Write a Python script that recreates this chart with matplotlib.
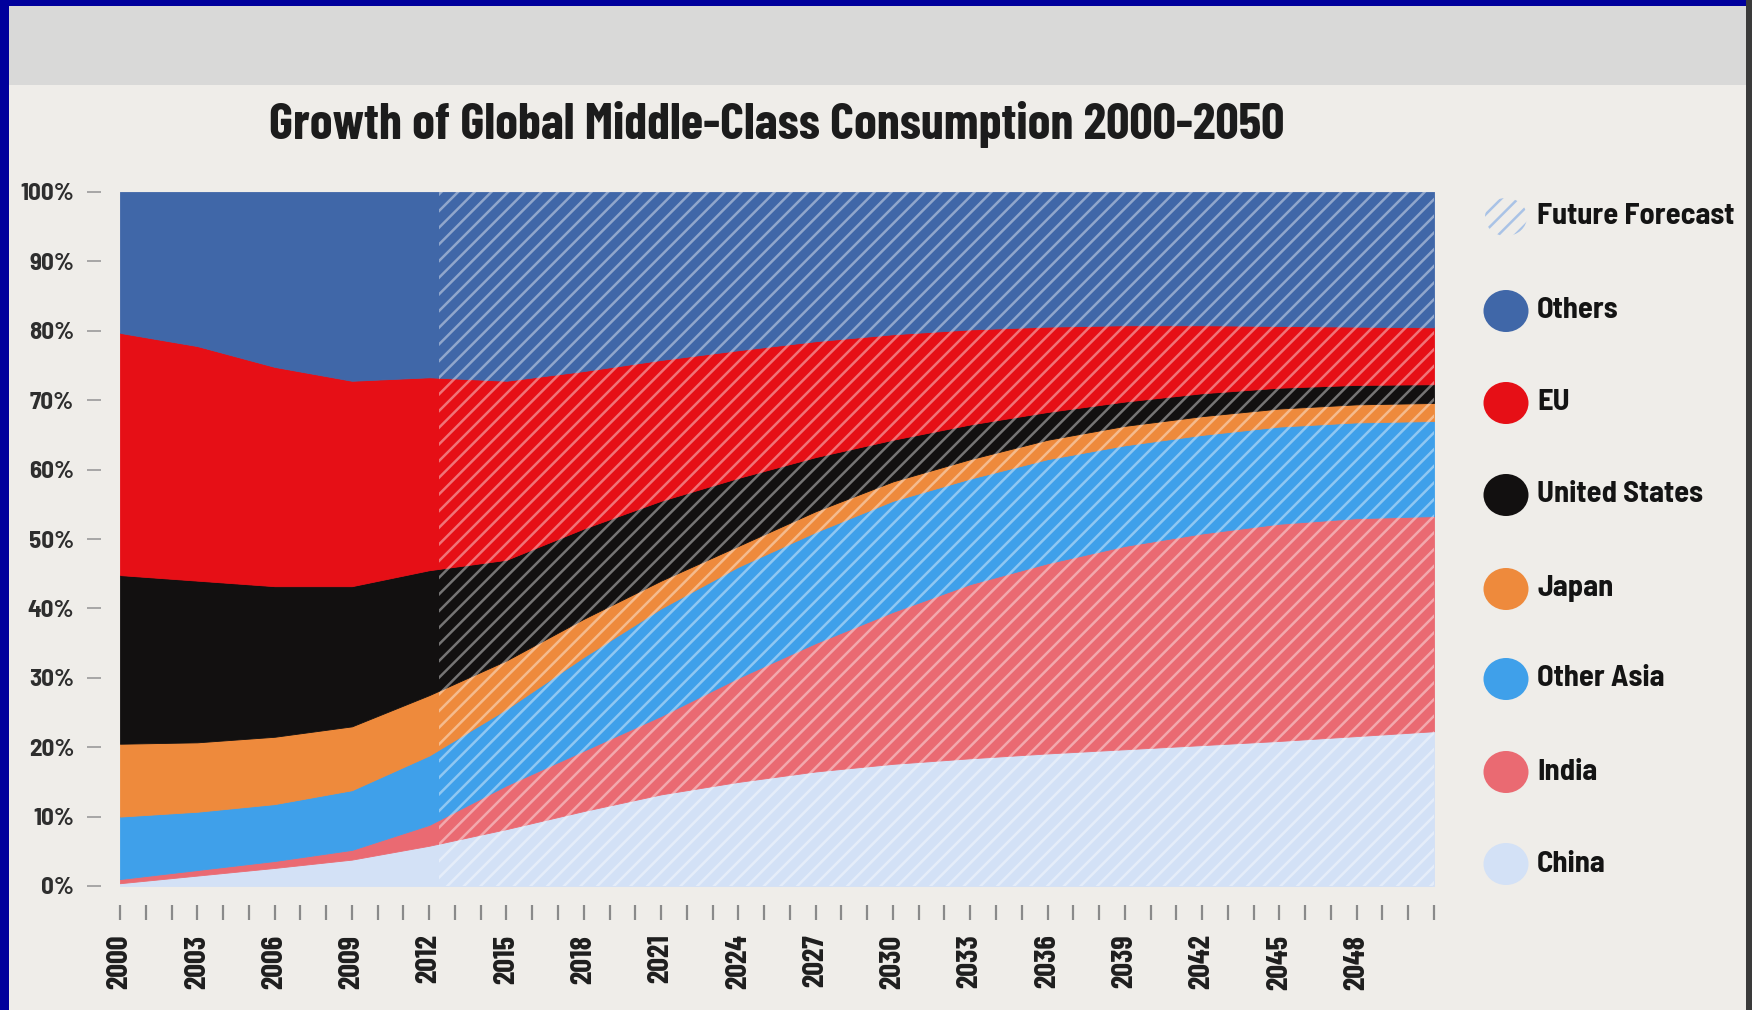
import matplotlib
matplotlib.use("Agg")
import matplotlib.pyplot as plt
from matplotlib.patches import Rectangle, Ellipse

# ---------------- data ----------------
years = [2000, 2003, 2006, 2009, 2012, 2015, 2018, 2021, 2024, 2027,
         2030, 2033, 2036, 2039, 2042, 2045, 2048, 2051]
china      = [0.4, 1.5, 2.6, 3.8, 5.8, 8.2, 10.8, 13.2, 15.0, 16.5,
              17.6, 18.4, 19.1, 19.7, 20.3, 20.9, 21.6, 22.3]
india      = [0.6, 0.8, 1.0, 1.4, 3.0, 6.3, 8.7, 11.3, 15.0, 18.5,
              21.9, 25.1, 27.4, 29.3, 30.5, 31.3, 31.4, 31.0]
other_asia = [9.0, 8.4, 8.2, 8.6, 10.0, 11.0, 13.5, 15.5, 16.0, 16.0,
              16.0, 15.2, 15.0, 14.5, 14.2, 14.0, 13.8, 13.7]
japan      = [10.5, 10.0, 9.7, 9.2, 8.7, 7.0, 5.5, 4.0, 3.0, 3.0,
              2.8, 2.8, 2.8, 2.8, 2.7, 2.6, 2.6, 2.6]
us         = [24.3, 23.3, 21.7, 20.2, 18.0, 14.5, 13.0, 11.5, 9.8, 7.8,
              6.0, 5.0, 4.0, 3.5, 3.3, 3.0, 2.8, 2.7]
eu         = [34.9, 33.8, 31.6, 29.6, 27.8, 25.8, 22.7, 20.3, 18.4, 16.7,
              15.2, 13.7, 12.3, 11.0, 9.8, 8.9, 8.4, 8.2]
others     = [20.3, 22.2, 25.2, 27.2, 26.7, 27.2, 25.8, 24.2, 22.8, 21.5,
              20.5, 19.8, 19.4, 19.2, 19.2, 19.3, 19.4, 19.5]

series_names = ["China", "India", "Other Asia", "Japan", "United States", "EU", "Others"]
forecast_start = 2012.4
tick_years = list(range(2000, 2052))
label_years = list(range(2000, 2049, 3))
y_ticks = list(range(0, 101, 10))
title = "Growth of Global Middle-Class Consumption 2000-2050"
legend_labels = ["Future Forecast", "Others", "EU", "United States", "Japan",
                 "Other Asia", "India", "China"]

# ---------------- style ----------------
colors = {
    "China": "#d3e1f6",
    "India": "#ea6a72",
    "Other Asia": "#3fa0ea",
    "Japan": "#ee8a3c",
    "United States": "#121010",
    "EU": "#e60f16",
    "Others": "#4067a8",
}
BG = "#efede9"
FONT = ["Barlow Condensed", "Liberation Sans Narrow", "DejaVu Sans"]
FONT_SEMI = ["Barlow Semi Condensed", "Barlow Condensed", "DejaVu Sans"]
plt.rcParams["font.family"] = FONT
plt.rcParams["hatch.linewidth"] = 1.8

W, H = 1752, 1010
fig = plt.figure(figsize=(W / 100, H / 100), dpi=100, facecolor="#00009c")

# full-figure pixel axes for background, header band and legend
lax = fig.add_axes([0, 0, 1, 1])
lax.set_xlim(0, W)
lax.set_ylim(H, 0)
lax.axis("off")
lax.set_zorder(0)
lax.add_patch(Rectangle((9, 6), 1737, H, facecolor=BG, edgecolor="none"))
lax.add_patch(Rectangle((9, 6), 1737, 79, facecolor="#d9d9d8", edgecolor="none"))
lax.add_patch(Rectangle((1746, 0), 6, H, facecolor="#3a3a3a", edgecolor="none"))

# title
lax.text(777, 124, title, ha="center", va="center", fontsize=37,
         fontweight="bold", color="#1c1c1c", family=FONT)

# ---------------- main chart ----------------
ax = fig.add_axes([120 / W, (H - 886) / H, (1434 - 120) / W, (886 - 192) / H])
ax.set_zorder(1)
ax.set_facecolor(BG)

stack_data = [china, india, other_asia, japan, us, eu, others]
ax.stackplot(years, *stack_data,
             colors=[colors[n] for n in series_names],
             edgecolor="face", linewidth=0.6)

ax.axvspan(forecast_start, years[-1], facecolor="none",
           edgecolor=(1, 1, 1, 0.42), hatch="//", linewidth=0, zorder=3)

ax.set_xlim(years[0], years[-1])
ax.set_ylim(0, 100)

for s in ax.spines.values():
    s.set_visible(False)
ax.spines["left"].set_position(("outward", 14))
ax.spines["bottom"].set_position(("outward", 14))

ax.set_yticks(y_ticks)
ax.set_yticklabels([f"{v}%" for v in y_ticks])
ax.tick_params(axis="y", length=10, width=1.2, color="#9a9a9a", pad=9,
               labelsize=18, labelcolor="#2e2e2e")

ax.set_xticks(label_years)
ax.set_xticklabels([str(y) for y in label_years], rotation=90)
ax.set_xticks(tick_years, minor=True)
ax.tick_params(axis="x", which="both", length=11, width=1.6, color="#8a8a8a",
               pad=10, labelsize=22, labelcolor="#1e1e1e")
for lab in ax.get_xticklabels():
    lab.set_fontweight("bold")
for lab in ax.get_yticklabels():
    lab.set_fontweight("bold")
    lab.set_family(FONT_SEMI)

# ---------------- legend ----------------
leg_y = [217, 311, 403, 495, 589, 679, 772, 864]
mx, tx = 1506, 1537
lax.add_patch(Ellipse((mx, leg_y[0]), 42, 38, facecolor="none",
                      edgecolor="#a9c3e6", hatch="//", linewidth=0))
legend_colors = [None, colors["Others"], colors["EU"], colors["United States"],
                 colors["Japan"], colors["Other Asia"], colors["India"], colors["China"]]
for i, (lbl, y) in enumerate(zip(legend_labels, leg_y)):
    if i > 0:
        lax.add_patch(Ellipse((mx, y), 45, 42, facecolor=legend_colors[i], edgecolor="none"))
    lax.text(tx, y, lbl, ha="left", va="center", fontsize=22,
             fontweight="bold", color="#141414", family=FONT_SEMI)

fig.savefig("out.png", dpi=100, facecolor=fig.get_facecolor())
